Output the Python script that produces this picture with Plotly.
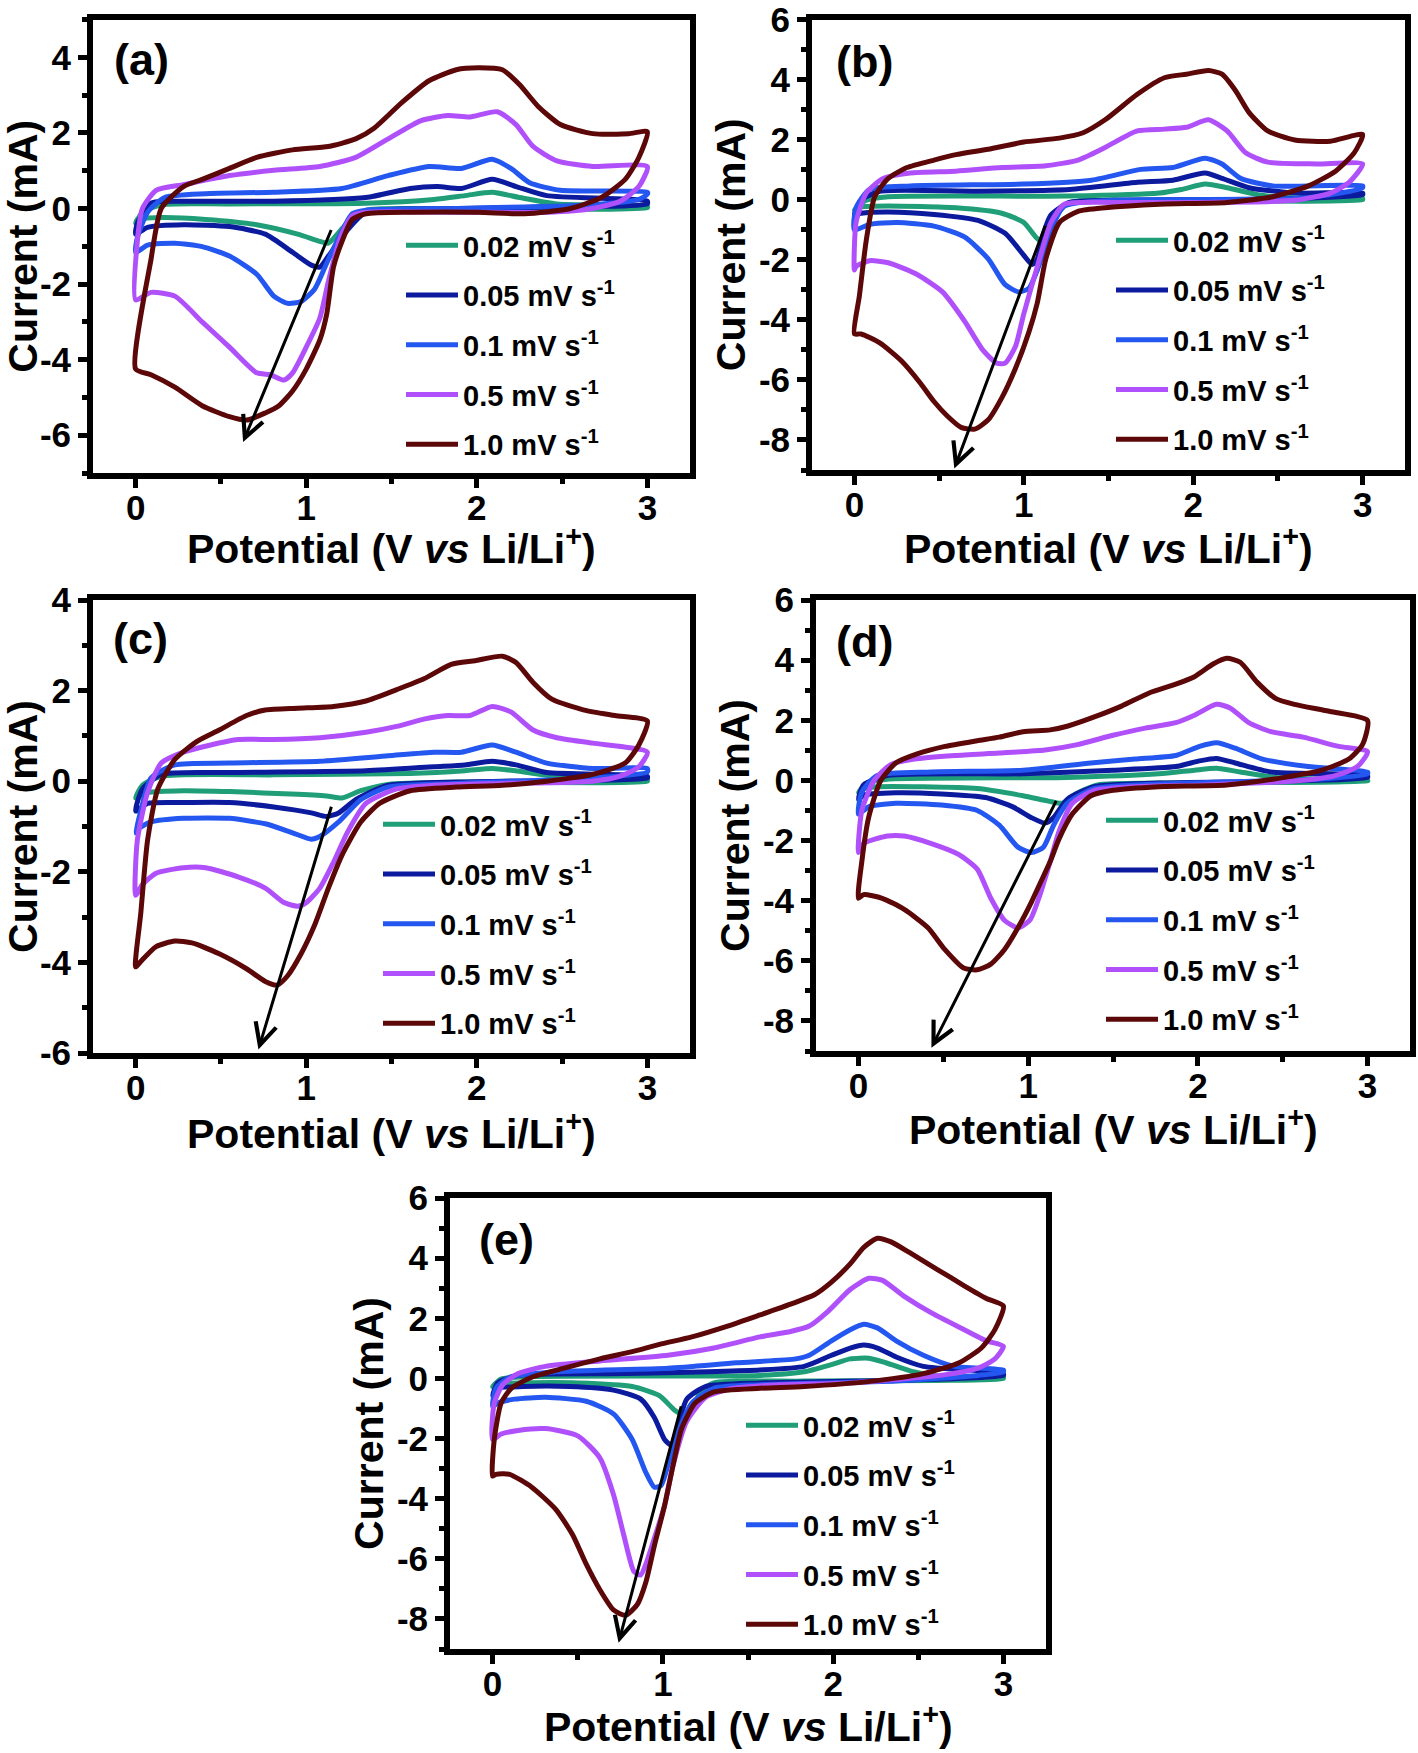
import plotly.graph_objects as go

W, H = 1418, 1753
FONT = "Liberation Sans, Arial, sans-serif"

SCAN_RATES = ["0.02", "0.05", "0.1", "0.5", "1.0"]
COLORS = ["#1f9e78", "#0c1a9e", "#2456f0", "#b050fb", "#5c0808"]
PANEL_LABELS = ["(a)", "(b)", "(c)", "(d)", "(e)"]
X_TITLE = "Potential (V <i>vs</i> Li/Li<sup>+</sup>)"
Y_TITLE = "Current (mA)"
X_TICKS = [0, 1, 2, 3]
X_MINOR = [0.5, 1.5, 2.5]
Y_TICKS_A = [-6, -4, -2, 0, 2, 4]
Y_TICKS_B = [-8, -6, -4, -2, 0, 2, 4, 6]
Y_TICKS_C = [-6, -4, -2, 0, 2, 4]
Y_TICKS_D = [-8, -6, -4, -2, 0, 2, 4, 6]
Y_TICKS_E = [-8, -6, -4, -2, 0, 2, 4, 6]
Y_RANGE_A = [-7, 5]
Y_RANGE_B = [-9, 6]
Y_RANGE_C = [-6, 4]
Y_RANGE_D = [-9, 6]
Y_RANGE_E = [-9, 6]
X_RANGE = [-0.25, 3.25]

# ---------------- panel (a) ----------------
A002_V = [0, 0.04, 0.15, 0.55, 1.35, 1.75, 1.93, 2.09, 2.25, 2.47, 3.0, 3.0, 1.88, 1.35, 1.24, 1.13, 1.08, 0.95, 0.71, 0.41, 0.15, 0.01, 0]
A002_I = [-0.39, -0.1, 0.1, 0.12, 0.14, 0.24, 0.34, 0.43, 0.29, 0.12, 0.05, 0.02, -0.02, -0.05, -0.39, -0.92, -0.87, -0.68, -0.43, -0.29, -0.24, -0.29, -0.39]
A005_V = [0, 0.01, 0.09, 0.28, 0.81, 1.35, 1.61, 1.77, 1.91, 2.09, 2.23, 2.41, 3.0, 3.0, 2.68, 1.88, 1.35, 1.24, 1.13, 1.08, 1.03, 0.92, 0.76, 0.55, 0.28, 0.07, 0]
A005_I = [-0.68, -0.39, 0.14, 0.19, 0.19, 0.29, 0.53, 0.58, 0.53, 0.77, 0.58, 0.34, 0.19, 0.12, 0.05, 0, -0.1, -0.58, -1.26, -1.55, -1.5, -1.16, -0.68, -0.48, -0.43, -0.5, -0.68]
A01_V = [0, 0.01, 0.07, 0.17, 0.41, 0.81, 1.21, 1.48, 1.72, 1.91, 2.09, 2.2, 2.31, 2.49, 3.0, 3.0, 2.95, 2.68, 1.88, 1.35, 1.27, 1.13, 1.05, 0.97, 0.89, 0.81, 0.71, 0.55, 0.39, 0.23, 0.07, 0]
A01_I = [-1.16, -0.77, -0.1, 0.29, 0.39, 0.43, 0.53, 0.87, 1.11, 1.06, 1.3, 1.06, 0.68, 0.48, 0.43, 0.38, 0.24, 0.1, 0, -0.05, -0.14, -1.35, -2.13, -2.46, -2.51, -2.32, -1.74, -1.26, -1.01, -0.92, -0.97, -1.16]
A05_V = [0, 0.01, 0.04, 0.12, 0.28, 0.55, 0.81, 1.08, 1.29, 1.48, 1.67, 1.83, 1.96, 2.12, 2.23, 2.33, 2.47, 2.68, 3.0, 2.95, 2.84, 2.68, 2.41, 1.88, 1.35, 1.27, 1.2, 1.13, 1.08, 1.0, 0.92, 0.87, 0.79, 0.71, 0.55, 0.39, 0.23, 0.09, 0]
A05_I = [-2.42, -0.87, 0, 0.48, 0.63, 0.87, 1.01, 1.11, 1.35, 1.84, 2.32, 2.46, 2.42, 2.56, 2.22, 1.64, 1.26, 1.11, 1.11, 0.58, 0.19, 0, -0.1, -0.1, -0.1, -0.19, -0.77, -1.93, -2.9, -3.67, -4.35, -4.54, -4.4, -4.35, -3.67, -3.0, -2.32, -2.22, -2.42]
A10_V = [0, 0.09, 0.15, 0.28, 0.39, 0.55, 0.71, 0.92, 1.13, 1.29, 1.4, 1.56, 1.72, 1.88, 2.01, 2.15, 2.25, 2.36, 2.49, 2.68, 2.89, 3.0, 2.95, 2.87, 2.73, 2.55, 2.28, 2.01, 1.61, 1.35, 1.27, 1.21, 1.16, 1.12, 1.08, 1.0, 0.92, 0.84, 0.76, 0.65, 0.55, 0.39, 0.23, 0.09, 0]
A10_I = [-4.25, -1.35, 0, 0.58, 0.77, 1.06, 1.35, 1.55, 1.64, 1.84, 2.13, 2.8, 3.38, 3.67, 3.72, 3.67, 3.28, 2.7, 2.22, 1.98, 1.98, 2.03, 1.35, 0.77, 0.29, 0, -0.14, -0.1, -0.1, -0.14, -0.29, -0.87, -1.55, -2.8, -3.48, -4.25, -4.83, -5.22, -5.41, -5.6, -5.51, -5.22, -4.73, -4.4, -4.25]

# ---------------- panel (b) ----------------
B002_V = [0, 0.07, 0.2, 1.27, 1.8, 1.93, 2.07, 2.2, 2.39, 2.6, 3.0, 3.0, 1.53, 1.27, 1.19, 1.13, 1.11, 1.07, 1.0, 0.87, 0.6, 0.2, 0.04, 0]
B002_I = [-0.33, -0.02, 0.1, 0.12, 0.22, 0.34, 0.52, 0.4, 0.16, 0.06, 0.04, 0.0, -0.02, -0.09, -0.51, -1.24, -1.42, -1.24, -0.76, -0.45, -0.27, -0.21, -0.24, -0.33]
B005_V = [0, 0.04, 0.15, 0.73, 1.27, 1.67, 1.88, 2.07, 2.17, 2.33, 2.6, 3.0, 3.0, 2.6, 1.53, 1.27, 1.16, 1.11, 1.08, 1.05, 1.0, 0.89, 0.73, 0.47, 0.2, 0.04, 0]
B005_I = [-0.51, -0.02, 0.28, 0.28, 0.34, 0.58, 0.65, 0.89, 0.71, 0.4, 0.22, 0.22, 0.16, 0.04, -0.02, -0.09, -0.51, -1.24, -1.97, -2.16, -1.85, -1.12, -0.69, -0.49, -0.41, -0.45, -0.51]
B01_V = [0, 0.01, 0.09, 0.33, 1.0, 1.4, 1.69, 1.88, 2.07, 2.17, 2.28, 2.47, 3.0, 3.0, 2.87, 2.6, 1.53, 1.24, 1.16, 1.08, 1.03, 0.97, 0.89, 0.79, 0.65, 0.47, 0.25, 0.09, 0]
B01_I = [-1.0, -0.27, 0.34, 0.46, 0.52, 0.65, 1.01, 1.07, 1.38, 1.19, 0.71, 0.46, 0.46, 0.4, 0.22, 0.04, -0.02, -0.21, -1.0, -2.34, -2.95, -3.07, -2.83, -1.97, -1.24, -0.88, -0.76, -0.82, -1.0]
B05_V = [0, 0.01, 0.07, 0.17, 0.33, 0.6, 0.87, 1.13, 1.32, 1.48, 1.67, 1.83, 1.96, 2.09, 2.2, 2.31, 2.44, 2.73, 3.0, 2.92, 2.81, 2.6, 2.07, 1.53, 1.24, 1.16, 1.08, 1.0, 0.95, 0.89, 0.84, 0.76, 0.65, 0.52, 0.36, 0.2, 0.09, 0.01, 0]
B05_I = [-2.34, -0.76, 0.22, 0.71, 0.89, 0.95, 1.07, 1.13, 1.32, 1.74, 2.29, 2.35, 2.41, 2.66, 2.29, 1.56, 1.25, 1.19, 1.19, 0.58, 0.22, -0.02, -0.09, -0.09, -0.15, -0.76, -2.22, -3.8, -4.9, -5.44, -5.44, -5.02, -4.04, -3.07, -2.46, -2.1, -2.03, -2.22, -2.34]
B10_V = [0, 0.03, 0.07, 0.12, 0.2, 0.31, 0.47, 0.6, 0.79, 1.0, 1.21, 1.35, 1.48, 1.67, 1.83, 1.96, 2.09, 2.17, 2.25, 2.33, 2.44, 2.6, 2.81, 3.0, 2.95, 2.84, 2.68, 2.47, 2.2, 1.8, 1.48, 1.32, 1.21, 1.13, 1.08, 1.03, 0.95, 0.87, 0.79, 0.71, 0.63, 0.55, 0.47, 0.39, 0.28, 0.15, 0.04, 0]
B10_I = [-4.47, -3.19, -1.36, 0.1, 0.71, 1.07, 1.32, 1.5, 1.68, 1.92, 2.05, 2.23, 2.66, 3.51, 4.06, 4.18, 4.3, 4.18, 3.63, 2.9, 2.29, 1.99, 1.95, 2.17, 1.56, 0.95, 0.46, 0.1, -0.09, -0.15, -0.27, -0.39, -0.76, -1.97, -3.43, -4.41, -5.63, -6.6, -7.33, -7.64, -7.58, -7.21, -6.72, -6.11, -5.38, -4.77, -4.47, -4.47]

# ---------------- panel (c) ----------------
C002_V = [0, 0.04, 0.15, 0.81, 1.61, 1.93, 2.09, 2.25, 2.47, 3.0, 3.0, 1.88, 1.48, 1.32, 1.21, 1.13, 0.95, 0.55, 0.28, 0.07, 0]
C002_I = [-0.37, -0.09, 0.11, 0.14, 0.17, 0.23, 0.28, 0.22, 0.1, 0.03, 0.0, -0.02, -0.07, -0.21, -0.37, -0.33, -0.29, -0.23, -0.21, -0.25, -0.37]
C005_V = [0, 0.04, 0.15, 0.55, 1.35, 1.75, 1.93, 2.09, 2.23, 2.41, 3.0, 3.0, 2.15, 1.48, 1.29, 1.19, 1.12, 1.03, 0.81, 0.55, 0.28, 0.07, 0]
C005_I = [-0.66, -0.17, 0.15, 0.19, 0.23, 0.32, 0.36, 0.44, 0.36, 0.19, 0.11, 0.07, 0, -0.09, -0.41, -0.7, -0.78, -0.7, -0.57, -0.47, -0.47, -0.49, -0.66]
C01_V = [0, 0.03, 0.09, 0.23, 0.55, 1.08, 1.48, 1.75, 1.91, 2.09, 2.23, 2.41, 2.68, 3.0, 3.0, 2.68, 1.88, 1.48, 1.32, 1.19, 1.08, 1.03, 0.92, 0.76, 0.55, 0.28, 0.09, 0.01, 0]
C01_I = [-1.14, -0.66, 0.07, 0.36, 0.4, 0.44, 0.56, 0.64, 0.64, 0.8, 0.64, 0.4, 0.28, 0.28, 0.2, 0.07, -0.05, -0.13, -0.41, -0.9, -1.22, -1.28, -1.14, -0.94, -0.82, -0.82, -0.9, -1.06, -1.14]
C05_V = [0, 0.01, 0.07, 0.15, 0.28, 0.44, 0.6, 0.81, 1.08, 1.35, 1.53, 1.69, 1.83, 1.96, 2.09, 2.2, 2.33, 2.47, 2.68, 3.0, 2.95, 2.84, 2.68, 2.15, 1.75, 1.53, 1.35, 1.24, 1.16, 1.08, 1.0, 0.95, 0.87, 0.76, 0.6, 0.41, 0.28, 0.12, 0.04, 0]
C05_I = [-2.52, -1.3, -0.25, 0.4, 0.64, 0.8, 0.92, 0.92, 0.96, 1.08, 1.21, 1.37, 1.45, 1.45, 1.65, 1.53, 1.13, 0.96, 0.84, 0.64, 0.32, 0.11, 0, -0.05, -0.09, -0.17, -0.49, -1.14, -1.79, -2.36, -2.68, -2.76, -2.68, -2.36, -2.11, -1.91, -1.91, -2.03, -2.28, -2.52]
C10_V = [0, 0.03, 0.07, 0.13, 0.23, 0.36, 0.49, 0.65, 0.76, 0.95, 1.16, 1.35, 1.53, 1.69, 1.85, 1.99, 2.15, 2.23, 2.33, 2.44, 2.63, 2.81, 3.0, 2.95, 2.87, 2.68, 2.41, 2.15, 1.88, 1.61, 1.43, 1.32, 1.21, 1.13, 1.05, 0.97, 0.89, 0.83, 0.76, 0.65, 0.49, 0.33, 0.23, 0.12, 0.03, 0]
C10_I = [-4.1, -2.92, -1.3, -0.17, 0.48, 0.88, 1.13, 1.45, 1.57, 1.61, 1.65, 1.77, 2.02, 2.26, 2.58, 2.66, 2.76, 2.62, 2.18, 1.81, 1.57, 1.45, 1.33, 0.8, 0.4, 0.15, 0, -0.09, -0.13, -0.21, -0.49, -0.9, -1.63, -2.36, -3.17, -3.81, -4.3, -4.5, -4.42, -4.14, -3.81, -3.57, -3.53, -3.65, -3.98, -4.1]

# ---------------- panel (d) ----------------
D002_V = [0, 0.05, 0.17, 1.23, 1.77, 1.98, 2.11, 2.25, 2.46, 3.0, 3.0, 1.77, 1.41, 1.28, 1.2, 1.12, 0.97, 0.7, 0.38, 0.11, 0.02, 0]
D002_I = [-0.39, -0.09, 0.04, 0.1, 0.22, 0.34, 0.4, 0.28, 0.1, 0.0, -0.02, -0.09, -0.15, -0.45, -0.76, -0.69, -0.51, -0.27, -0.21, -0.21, -0.29, -0.39]
D005_V = [0, 0.03, 0.17, 0.97, 1.5, 1.87, 2.01, 2.11, 2.22, 2.43, 3.0, 3.0, 1.77, 1.39, 1.23, 1.15, 1.1, 1.02, 0.91, 0.75, 0.49, 0.22, 0.03, 0]
D005_I = [-0.63, -0.15, 0.16, 0.22, 0.34, 0.46, 0.65, 0.73, 0.58, 0.28, 0.16, 0.1, -0.09, -0.21, -0.63, -1.24, -1.42, -1.24, -0.88, -0.57, -0.45, -0.41, -0.49, -0.63]
D01_V = [0, 0.02, 0.11, 0.43, 0.97, 1.37, 1.63, 1.87, 2.01, 2.11, 2.22, 2.38, 2.65, 3.0, 3.0, 2.7, 1.77, 1.39, 1.23, 1.15, 1.09, 1.02, 0.94, 0.83, 0.7, 0.49, 0.22, 0.06, 0]
D01_I = [-1.12, -0.39, 0.16, 0.28, 0.34, 0.58, 0.71, 0.83, 1.13, 1.25, 1.07, 0.71, 0.46, 0.28, 0.22, 0.04, -0.12, -0.27, -0.76, -1.49, -2.22, -2.4, -2.22, -1.49, -1.0, -0.82, -0.76, -0.88, -1.12]
D05_V = [0, 0.02, 0.09, 0.19, 0.33, 0.57, 0.83, 1.1, 1.29, 1.5, 1.69, 1.87, 1.98, 2.11, 2.19, 2.3, 2.43, 2.62, 2.83, 3.0, 2.94, 2.81, 2.57, 2.04, 1.63, 1.39, 1.26, 1.18, 1.13, 1.07, 1.01, 0.94, 0.86, 0.78, 0.7, 0.59, 0.43, 0.27, 0.17, 0.03, 0]
D05_I = [-2.4, -1.0, -0.02, 0.52, 0.71, 0.83, 0.91, 1.01, 1.19, 1.5, 1.74, 1.92, 2.17, 2.53, 2.41, 1.92, 1.62, 1.44, 1.13, 0.95, 0.46, 0.16, -0.02, -0.15, -0.21, -0.33, -0.76, -1.73, -2.7, -3.8, -4.65, -4.9, -4.65, -3.92, -2.95, -2.46, -2.1, -1.85, -1.85, -2.1, -2.4]
D10_V = [0, 0.02, 0.06, 0.13, 0.22, 0.35, 0.51, 0.7, 0.83, 0.97, 1.13, 1.23, 1.39, 1.55, 1.71, 1.87, 1.98, 2.09, 2.17, 2.25, 2.35, 2.46, 2.57, 2.78, 3.0, 2.97, 2.89, 2.73, 2.51, 2.17, 1.77, 1.5, 1.37, 1.26, 1.18, 1.13, 1.07, 1.02, 0.94, 0.86, 0.78, 0.7, 0.62, 0.51, 0.41, 0.27, 0.14, 0.03, 0]
D10_I = [-3.92, -2.7, -1.24, -0.02, 0.58, 0.89, 1.13, 1.32, 1.44, 1.62, 1.68, 1.8, 2.11, 2.47, 2.9, 3.2, 3.45, 3.87, 4.06, 3.93, 3.26, 2.72, 2.53, 2.29, 1.99, 1.19, 0.71, 0.34, 0.1, -0.15, -0.21, -0.33, -0.51, -1.12, -1.97, -2.7, -3.43, -4.04, -4.9, -5.63, -6.11, -6.3, -6.24, -5.63, -4.9, -4.29, -3.92, -3.8, -3.92]

# ---------------- panel (e) ----------------
E002_V = [0, 0.05, 0.23, 1.57, 1.83, 1.99, 2.1, 2.21, 2.31, 2.47, 2.63, 3.0, 3.0, 1.83, 1.3, 1.22, 1.17, 1.13, 1.07, 0.98, 0.82, 0.5, 0.18, 0.03, 0]
E002_I = [-0.27, -0.02, 0.06, 0.1, 0.22, 0.46, 0.65, 0.67, 0.52, 0.22, 0.06, 0.04, 0.0, -0.09, -0.15, -0.45, -1.06, -1.24, -1.06, -0.57, -0.27, -0.15, -0.15, -0.18, -0.27]
E005_V = [0, 0.03, 0.15, 0.77, 1.57, 1.83, 1.99, 2.1, 2.18, 2.26, 2.37, 2.53, 3.0, 3.0, 2.37, 1.57, 1.25, 1.14, 1.09, 1.05, 1.01, 0.95, 0.87, 0.71, 0.45, 0.18, 0.03, 0]
E005_I = [-0.57, -0.15, 0.1, 0.16, 0.28, 0.4, 0.77, 1.01, 1.11, 1.01, 0.71, 0.4, 0.16, 0.1, -0.06, -0.15, -0.27, -0.69, -1.55, -2.22, -2.03, -1.3, -0.69, -0.39, -0.27, -0.27, -0.33, -0.57]
E01_V = [0, 0.02, 0.1, 0.37, 1.03, 1.43, 1.78, 1.86, 1.99, 2.1, 2.18, 2.26, 2.37, 2.53, 2.71, 3.0, 3.0, 2.85, 2.37, 1.57, 1.3, 1.17, 1.09, 1.03, 0.99, 0.95, 0.9, 0.82, 0.71, 0.55, 0.31, 0.13, 0.03, 0]
E01_I = [-0.94, -0.33, 0.04, 0.22, 0.34, 0.52, 0.65, 0.77, 1.25, 1.62, 1.8, 1.68, 1.25, 0.77, 0.4, 0.28, 0.22, 0.1, -0.09, -0.21, -0.33, -0.82, -1.79, -2.89, -3.56, -3.62, -3.13, -2.03, -1.18, -0.76, -0.63, -0.69, -0.82, -0.94]
E05_V = [0, 0.01, 0.06, 0.15, 0.31, 0.63, 1.03, 1.3, 1.57, 1.75, 1.86, 1.97, 2.1, 2.21, 2.29, 2.42, 2.58, 2.77, 2.9, 3.0, 2.95, 2.85, 2.63, 2.1, 1.7, 1.41, 1.25, 1.14, 1.06, 1.01, 0.95, 0.9, 0.87, 0.83, 0.77, 0.71, 0.63, 0.5, 0.31, 0.15, 0.05, 0]
E05_I = [-2.03, -0.82, -0.21, 0.16, 0.4, 0.58, 0.77, 1.01, 1.38, 1.56, 1.74, 2.23, 2.96, 3.33, 3.26, 2.72, 2.17, 1.62, 1.25, 1.07, 0.65, 0.34, 0.1, -0.15, -0.21, -0.33, -0.63, -1.43, -2.89, -4.23, -5.32, -6.18, -6.54, -6.42, -5.2, -3.86, -2.64, -1.91, -1.67, -1.73, -1.85, -2.03]
E10_V = [0, 0.01, 0.05, 0.11, 0.23, 0.42, 0.63, 0.82, 0.98, 1.17, 1.38, 1.57, 1.75, 1.89, 1.99, 2.1, 2.18, 2.26, 2.34, 2.45, 2.61, 2.77, 2.9, 3.0, 2.95, 2.87, 2.74, 2.53, 2.23, 1.83, 1.57, 1.3, 1.19, 1.11, 1.06, 1.01, 0.95, 0.9, 0.85, 0.78, 0.71, 0.63, 0.55, 0.47, 0.37, 0.23, 0.1, 0.02, 0]
E10_I = [-3.25, -2.03, -0.82, -0.33, 0.04, 0.34, 0.65, 0.89, 1.13, 1.38, 1.74, 2.11, 2.47, 2.78, 3.2, 3.81, 4.36, 4.66, 4.54, 4.18, 3.63, 3.08, 2.66, 2.41, 1.62, 1.01, 0.52, 0.16, -0.09, -0.27, -0.33, -0.45, -0.82, -1.67, -2.89, -4.23, -5.57, -6.78, -7.52, -7.88, -7.7, -7.03, -6.18, -5.2, -4.35, -3.62, -3.19, -3.19, -3.25]

# arrows (tail -> head) in data units
ARROW_TAIL = [(1.15, -0.53), (1.13, -0.82), (1.15, -0.53), (1.17, -0.63), (1.11, -0.88)]
ARROW_HEAD = [(0.63, -6.18), (0.59, -8.95), (0.72, -5.92), (0.43, -8.89), (0.74, -8.79)]

PANEL_CURVES = [
    [(A002_V, A002_I), (A005_V, A005_I), (A01_V, A01_I), (A05_V, A05_I), (A10_V, A10_I)],
    [(B002_V, B002_I), (B005_V, B005_I), (B01_V, B01_I), (B05_V, B05_I), (B10_V, B10_I)],
    [(C002_V, C002_I), (C005_V, C005_I), (C01_V, C01_I), (C05_V, C05_I), (C10_V, C10_I)],
    [(D002_V, D002_I), (D005_V, D005_I), (D01_V, D01_I), (D05_V, D05_I), (D10_V, D10_I)],
    [(E002_V, E002_I), (E005_V, E005_I), (E01_V, E01_I), (E05_V, E05_I), (E10_V, E10_I)],
]
PANEL_YTICKS = [Y_TICKS_A, Y_TICKS_B, Y_TICKS_C, Y_TICKS_D, Y_TICKS_E]
PANEL_YRANGE = [Y_RANGE_A, Y_RANGE_B, Y_RANGE_C, Y_RANGE_D, Y_RANGE_E]

# plot-area boxes in pixels: (left, right, top, bottom)
BOXES = [(93, 690, 19.5, 473), (812, 1405, 19.5, 470), (93, 690, 600, 1053),
         (816, 1410, 600, 1051), (450, 1046, 1198, 1649)]
LEGEND_POS = [(401, 220), (1111, 215), (378, 799), (1101, 795), (741, 1400)]
LABEL_OFF = [(48, 40), (52, 42), (47, 39), (48, 42), (56, 41)]
XTITLE_OFF = [73, 76, 78, 76, 75]

fig = go.Figure()
for p, curves in enumerate(PANEL_CURVES):
    sfx = "" if p == 0 else str(p + 1)
    for k, (v, i) in enumerate(curves):
        fig.add_trace(go.Scatter(
            x=v, y=i, mode="lines",
            line=dict(color=COLORS[k], width=5, shape="spline", smoothing=0.6),
            name=f"{SCAN_RATES[k]} mV s<sup>-1</sup>",
            legend="legend" + sfx, legendgroup=f"g{p}{k}",
            xaxis="x" + sfx, yaxis="y" + sfx,
        ))

layout = dict(width=W, height=H, margin=dict(l=0, r=0, t=0, b=0, pad=0, autoexpand=False),
              paper_bgcolor="white", plot_bgcolor="white", showlegend=True,
              font=dict(family=FONT, color="black"))
annotations = []
for p in range(5):
    sfx = "" if p == 0 else str(p + 1)
    l, r, t, b = BOXES[p]
    yt = PANEL_YTICKS[p]
    y0, y1 = PANEL_YRANGE[p]
    ymin = [v for v in range(y0, y1 + 1) if v not in yt]
    layout["xaxis" + sfx] = dict(
        domain=[l / W, r / W], range=X_RANGE, anchor="y" + sfx, automargin=False,
        tickvals=X_TICKS, ticktext=[str(v) for v in X_TICKS],
        ticks="outside", ticklen=9, tickwidth=5, tickcolor="black",
        minor=dict(tickvals=X_MINOR, ticks="outside", ticklen=5, tickwidth=5, tickcolor="black"),
        showline=True, linewidth=6, linecolor="black", mirror=True,
        showgrid=False, zeroline=False, ticklabelstandoff=-10, ticklabeloverflow="allow",
        tickfont=dict(family=FONT, size=35, weight="bold"),
    )
    layout["yaxis" + sfx] = dict(
        domain=[1 - b / H, 1 - t / H], range=[y0, y1], anchor="x" + sfx, automargin=False,
        tickvals=yt, ticktext=[str(v) for v in yt],
        ticks="outside", ticklen=9, tickwidth=5, tickcolor="black",
        minor=dict(tickvals=ymin, ticks="outside", ticklen=5, tickwidth=5, tickcolor="black"),
        showline=True, linewidth=6, linecolor="black", mirror=True,
        showgrid=False, zeroline=False, ticklabeloverflow="allow",
        tickfont=dict(family=FONT, size=35, weight="bold"),
        title=dict(text=Y_TITLE, font=dict(family=FONT, size=41, weight="bold"), standoff=3),
    )
    lx, ly = LEGEND_POS[p]
    layout["legend" + sfx] = dict(
        x=lx / W, y=1 - ly / H, xanchor="left", yanchor="top",
        bgcolor="rgba(0,0,0,0)", borderwidth=0,
        font=dict(family=FONT, size=29, weight="bold", color="black"),
        traceorder="grouped", tracegroupgap=9, itemwidth=52,
    )
    ox, oy = LABEL_OFF[p]
    annotations.append(dict(
        text=PANEL_LABELS[p], xref=f"x{sfx} domain", yref=f"y{sfx} domain",
        x=ox / (r - l), y=1 - oy / (b - t), xanchor="center", yanchor="middle",
        showarrow=False, font=dict(family=FONT, size=45, weight="bold", color="black"),
    ))
    annotations.append(dict(
        text=X_TITLE, xref=f"x{sfx} domain", yref=f"y{sfx} domain",
        x=0.5, y=-XTITLE_OFF[p] / (b - t), xanchor="center", yanchor="middle",
        showarrow=False, font=dict(family=FONT, size=41, weight="bold", color="black"),
    ))
    (tx, ty), (hx, hy) = ARROW_TAIL[p], ARROW_HEAD[p]
    annotations.append(dict(
        x=hx, y=hy, ax=tx, ay=ty, xref="x" + sfx, yref="y" + sfx,
        axref="x" + sfx, ayref="y" + sfx, showarrow=True, text="",
        arrowhead=5, arrowsize=1.4, arrowwidth=3, arrowcolor="black",
    ))
layout["annotations"] = annotations
fig.update_layout(**layout)

# page-level styling only: remove default browser margins/scrollbars
PAGE_FIX = ("document.documentElement.style.margin='0';document.body.style.margin='0';"
            "document.documentElement.style.overflow='hidden';document.body.style.overflow='hidden';")
fig.write_html("out.html", post_script=PAGE_FIX, config={"displayModeBar": False})
